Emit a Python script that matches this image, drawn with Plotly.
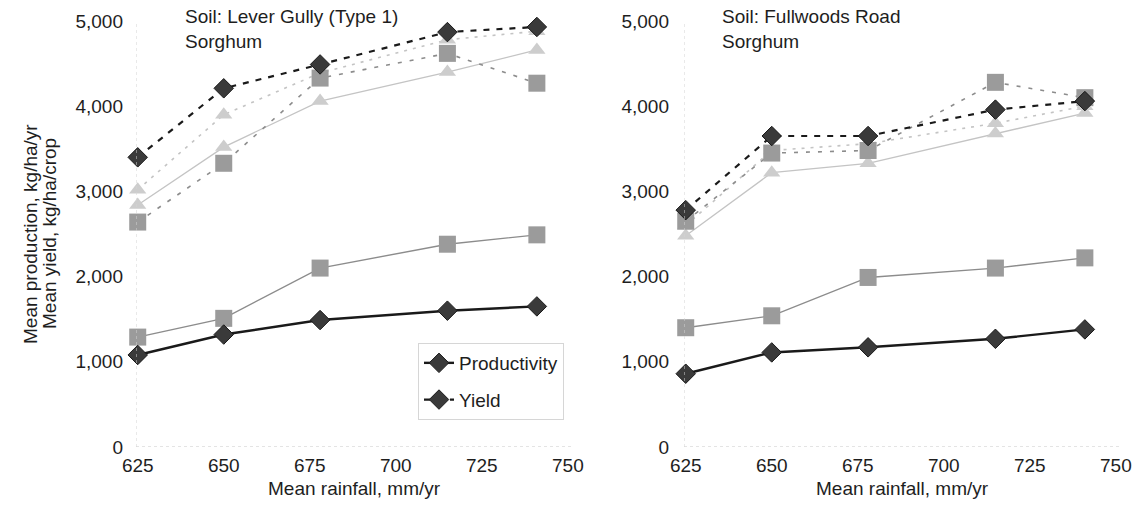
import plotly.graph_objects as go

# ---------------- data ----------------
rainfall = [625, 650, 678, 715, 741]
x_ticks = [625, 650, 675, 700, 725, 750]
y_ticks = [0, 1000, 2000, 3000, 4000, 5000]

# Left panel: Soil Lever Gully (Type 1), Sorghum
lg_prod = [1080, 1320, 1490, 1600, 1650]          # black diamonds, solid
lg_yield = [3400, 4210, 4490, 4870, 4930]         # black diamonds, dashed
lg_sq_prod = [1290, 1510, 2100, 2380, 2490]       # grey squares, solid
lg_sq_yield = [2640, 3330, 4330, 4620, 4270]      # grey squares, dashed
lg_tri_prod = [2840, 3520, 4060, 4400, 4660]      # light triangles, solid
lg_tri_yield = [3020, 3900, 4390, 4780, 4880]     # light triangles, dashed

# Right panel: Soil Fullwoods Road, Sorghum
fr_prod = [860, 1110, 1170, 1270, 1380]
fr_yield = [2780, 3650, 3650, 3960, 4060]
fr_sq_prod = [1400, 1540, 1990, 2100, 2220]
fr_sq_yield = [2650, 3450, 3480, 4280, 4100]
fr_tri_prod = [2480, 3220, 3330, 3680, 3920]
fr_tri_yield = [2600, 3480, 3560, 3800, 4000]

panel_titles = ["Soil: Lever Gully (Type 1)<br>Sorghum", "Soil: Fullwoods Road<br>Sorghum"]
x_title = "Mean rainfall, mm/yr"
y_title_1 = "Mean production, kg/ha/yr"
y_title_2 = "Mean yield, kg/ha/crop"

FONT = "Liberation Sans, Arial, sans-serif"
TXT = "#1e1e1e"
FS = 19

BLACK = "#1a1a1a"
DARK_FILL = "#3a3a3a"
GREY = "#8c8c8c"
GREY_FILL = "#9b9b9b"
LIGHT = "#c4c4c4"
LIGHT_FILL = "#cdcdcd"

fig = go.Figure()

panels = [
    ("x", "y", lg_prod, lg_yield, lg_sq_prod, lg_sq_yield, lg_tri_prod, lg_tri_yield, True),
    ("x2", "y2", fr_prod, fr_yield, fr_sq_prod, fr_sq_yield, fr_tri_prod, fr_tri_yield, False),
]

for xa, ya, prod, yld, sqp, sqy, trp, try_, show in panels:
    # light triangles
    fig.add_trace(go.Scatter(
        x=rainfall, y=try_, xaxis=xa, yaxis=ya, mode="lines+markers", showlegend=False,
        line=dict(color=LIGHT, width=1.6, dash="3px,6px"),
        marker=dict(symbol="triangle-up", size=15, color=LIGHT_FILL, line=dict(width=0)),
        cliponaxis=False, name="Triangle yield"))
    fig.add_trace(go.Scatter(
        x=rainfall, y=trp, xaxis=xa, yaxis=ya, mode="lines+markers", showlegend=False,
        line=dict(color=LIGHT, width=1.3),
        marker=dict(symbol="triangle-up", size=15, color=LIGHT_FILL, line=dict(width=0)),
        cliponaxis=False, name="Triangle productivity"))
    # grey squares
    fig.add_trace(go.Scatter(
        x=rainfall, y=sqy, xaxis=xa, yaxis=ya, mode="lines+markers", showlegend=False,
        line=dict(color=GREY, width=1.6, dash="4px,8px"),
        marker=dict(symbol="square", size=17, color=GREY_FILL, line=dict(width=0)),
        cliponaxis=False, name="Square yield"))
    fig.add_trace(go.Scatter(
        x=rainfall, y=sqp, xaxis=xa, yaxis=ya, mode="lines+markers", showlegend=False,
        line=dict(color=GREY, width=1.4),
        marker=dict(symbol="square", size=17, color=GREY_FILL, line=dict(width=0)),
        cliponaxis=False, name="Square productivity"))
    # black diamonds
    fig.add_trace(go.Scatter(
        x=rainfall, y=yld, xaxis=xa, yaxis=ya, mode="lines+markers", showlegend=show,
        line=dict(color=BLACK, width=2.2, dash="6px,7px"),
        marker=dict(symbol="diamond", size=15, color=DARK_FILL, line=dict(color=BLACK, width=1)),
        cliponaxis=False, name="Yield", legendrank=2, legendgroup="yield"))
    fig.add_trace(go.Scatter(
        x=rainfall, y=prod, xaxis=xa, yaxis=ya, mode="lines+markers", showlegend=show,
        line=dict(color=BLACK, width=2.4),
        marker=dict(symbol="diamond", size=15, color=DARK_FILL, line=dict(color=BLACK, width=1)),
        cliponaxis=False, name="Productivity", legendrank=1, legendgroup="prod"))

W, H = 1144, 520
ML, MR, MT, MB = 136, 23, 21, 73
PW = W - ML - MR
PH = H - MT - MB
XR = [624.5, 751.5]

def px_x(p):
    return (p - ML) / PW

def px_y(p):
    return (H - MB - p) / PH

left_dom = [0, px_x(573)]
right_dom = [px_x(684), 1]

axis_common = dict(showgrid=False, zeroline=False, showline=False, ticks="",
                   tickfont=dict(family=FONT, size=FS, color=TXT))

fig.update_layout(
    width=W, height=H,
    margin=dict(l=ML, r=MR, t=MT, b=MB),
    paper_bgcolor="white", plot_bgcolor="white",
    font=dict(family=FONT, size=FS, color=TXT),
    xaxis=dict(domain=left_dom, range=XR, tickvals=x_ticks, ticklabelstandoff=5, **axis_common),
    xaxis2=dict(domain=right_dom, range=XR, tickvals=x_ticks, ticklabelstandoff=5, anchor="y2", **axis_common),
    yaxis=dict(range=[0, 5000], tickvals=y_ticks, tickformat=",d", ticklabelstandoff=12, **axis_common),
    yaxis2=dict(range=[0, 5000], tickvals=y_ticks, tickformat=",d", ticklabelstandoff=14, anchor="x2", **axis_common),
    legend=dict(x=px_x(418), xanchor="left", y=px_y(343), yanchor="top",
                bgcolor="rgba(255,255,255,0)", bordercolor="#d6d6d6", borderwidth=1,
                font=dict(family=FONT, size=FS, color=TXT), traceorder="grouped",
                tracegroupgap=9, itemwidth=30),
)

# faint dotted axes
for xr, yr in [("x", "y"), ("x2", "y2")]:
    fig.add_shape(type="line", xref=xr, yref=yr, x0=XR[0], x1=XR[1], y0=0, y1=0,
                  line=dict(color="#c8c8c8", width=1, dash="dot"))
    fig.add_shape(type="line", xref=xr, yref=yr, x0=XR[0], x1=XR[0], y0=0, y1=5000,
                  line=dict(color="#d4d4d4", width=1, dash="dot"))

ann = []
ann.append(dict(text=panel_titles[0], xref="paper", yref="paper", x=px_x(183), y=px_y(4),
                xanchor="left", yanchor="top", showarrow=False, align="left",
                font=dict(family=FONT, size=FS, color=TXT)))
ann.append(dict(text=panel_titles[1], xref="paper", yref="paper", x=px_x(720), y=px_y(4),
                xanchor="left", yanchor="top", showarrow=False, align="left",
                font=dict(family=FONT, size=FS, color=TXT)))
for cx in [(136 + 573) / 2, (684 + 1121) / 2]:
    ann.append(dict(text=x_title, xref="paper", yref="paper", x=px_x(cx), y=px_y(488),
                    xanchor="center", yanchor="middle", showarrow=False,
                    font=dict(family=FONT, size=FS, color=TXT)))
ann.append(dict(text=y_title_1, xref="paper", yref="paper", x=px_x(30), y=px_y(234),
                xanchor="center", yanchor="middle", textangle=-90, showarrow=False,
                font=dict(family=FONT, size=FS, color=TXT)))
ann.append(dict(text=y_title_2, xref="paper", yref="paper", x=px_x(49), y=px_y(234),
                xanchor="center", yanchor="middle", textangle=-90, showarrow=False,
                font=dict(family=FONT, size=FS, color=TXT)))
fig.update_layout(annotations=ann)

fig.write_html("out.html", config={"displayModeBar": False},
               post_script="document.body.style.margin='0';")
